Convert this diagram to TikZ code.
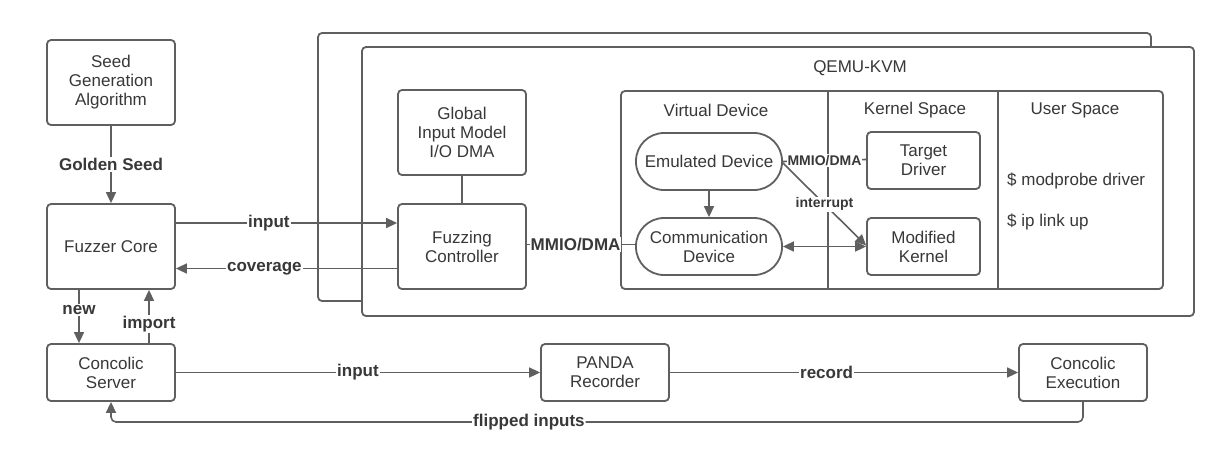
\documentclass[tikz,border=0pt]{standalone}
\usepackage{fontspec}
\setmainfont{Liberation Sans}
\usetikzlibrary{arrows.meta}
\definecolor{ln}{HTML}{5F5F5F}
\definecolor{tx}{HTML}{383838}
\begin{document}
\begin{tikzpicture}[x=1pt,y=-1pt,
  every node/.style={text=tx,font=\fontsize{17}{19}\selectfont},
  box/.style={draw=ln,line width=1.8pt,rounded corners=4pt,fill=white,align=center,inner sep=2pt},
  pill/.style={draw=ln,line width=1.8pt,rounded corners=28pt,fill=white,align=center,inner sep=2pt,minimum width=146pt,minimum height=57pt},
  frame/.style={draw=ln,line width=1.8pt,rounded corners=4pt,fill=white},
  conn/.style={draw=ln,line width=1.6pt},
  arr/.style={conn,-{Triangle[length=11pt,width=10pt]}},
  darr/.style={conn,{Triangle[length=11pt,width=10pt]}-{Triangle[length=11pt,width=10pt]}},
  lbl/.style={fill=white,inner sep=1pt,font=\bfseries\fontsize{17}{19}\selectfont},
  slbl/.style={fill=white,inner sep=1pt,font=\bfseries\fontsize{14}{16}\selectfont},
  plain/.style={align=center,inner sep=0pt}]
\useasboundingbox (0,0) rectangle (1232,448);
\fill[white] (0,0) rectangle (1232,448);

% frames
\draw[frame] (318,33) rectangle (1151,301);
\draw[frame] (362,47) rectangle (1194,316);
\node[plain] (qemu) at (860,68) {QEMU-KVM};
\draw[frame] (621,91) rectangle (1163,289);
\draw[ln,line width=1.6pt] (828,91) -- (828,289);
\draw[ln,line width=1.6pt] (998,91) -- (998,289);
\node[plain] (vd) at (716,110) {Virtual Device};
\node[plain] (ks) at (915,110) {Kernel Space};
\node[plain] (us) at (1075,110) {User Space};
\node[plain,anchor=west] (mp) at (1007,181) {\$ modprobe driver};
\node[plain,anchor=west] (ip) at (1007,222) {\$ ip link up};

% left column
\node[box,minimum width=128pt,minimum height=85pt] (seed) at (111,82.5) {Seed\\Generation\\Algorithm};
\node[box,minimum width=128pt,minimum height=85pt] (fuzz) at (111,246.5) {Fuzzer Core};
\node[box,minimum width=128pt,minimum height=57pt] (server) at (111,372.5) {Concolic\\Server};

% fuzzing side
\node[box,minimum width=128pt,minimum height=85pt] (gim) at (462,132.5) {Global\\Input Model\\I/O DMA};
\node[box,minimum width=128pt,minimum height=85pt] (fc) at (462,246.5) {Fuzzing\\Controller};

% virtual device / kernel
\node[pill] (emu) at (709,161.5) {Emulated Device};
\node[pill] (comm) at (709,246.5) {Communication\\Device};
\node[box,minimum width=113pt,minimum height=57pt] (td) at (923.5,160.5) {Target\\Driver};
\node[box,minimum width=113pt,minimum height=57pt] (mk) at (923.5,246.5) {Modified\\Kernel};

% bottom row
\node[box,minimum width=128pt,minimum height=57pt] (panda) at (605,372.5) {PANDA\\Recorder};
\node[box,minimum width=128pt,minimum height=57pt] (cexec) at (1083,372.5) {Concolic\\Execution};

% connectors
\draw[arr] (seed.south) -- node[lbl]{Golden Seed} (fuzz.north);
\draw[arr] ([yshift=23.5pt]fuzz.east) -- node[lbl,pos=0.42]{input} ([yshift=23.5pt]fc.west);
\draw[arr] ([yshift=-22pt]fc.west) -- node[lbl,pos=0.6]{coverage} ([yshift=-22pt]fuzz.east);
\draw[arr] ([xshift=-32pt]fuzz.south) -- node[lbl,pos=0.38]{new} ([xshift=-32pt]server.north);
\draw[arr] ([xshift=38pt]server.north) -- node[lbl,pos=0.36]{import} ([xshift=38pt]fuzz.south);
\draw[conn] (gim.south) -- (fc.north);
\draw[conn] ([yshift=2pt]fc.east) -- node[lbl,pos=0.45]{MMIO/DMA} ([yshift=2pt]comm.west);
\draw[arr] (emu.south) -- (comm.north);
\draw[conn] (emu.east) -- node[slbl]{MMIO/DMA} ([yshift=1pt]td.west);
\draw[arr] ([yshift=-1.5pt]emu.east) -- node[slbl]{interrupt} ([yshift=1pt]mk.west);
\draw[darr] (comm.east) -- (mk.west);
\draw[arr] (server.east) -- node[lbl]{input} (panda.west);
\draw[arr] (panda.east) -- node[lbl,pos=0.45]{record} (cexec.west);
\coordinate (fr) at (cexec.south |- 0,422);
\coordinate (fl) at (server.south |- 0,422);
\draw[arr,rounded corners=5pt] (cexec.south) -- (fr) -- node[lbl,pos=0.57]{flipped inputs} (fl) -- (server.south);
\end{tikzpicture}
\end{document}
